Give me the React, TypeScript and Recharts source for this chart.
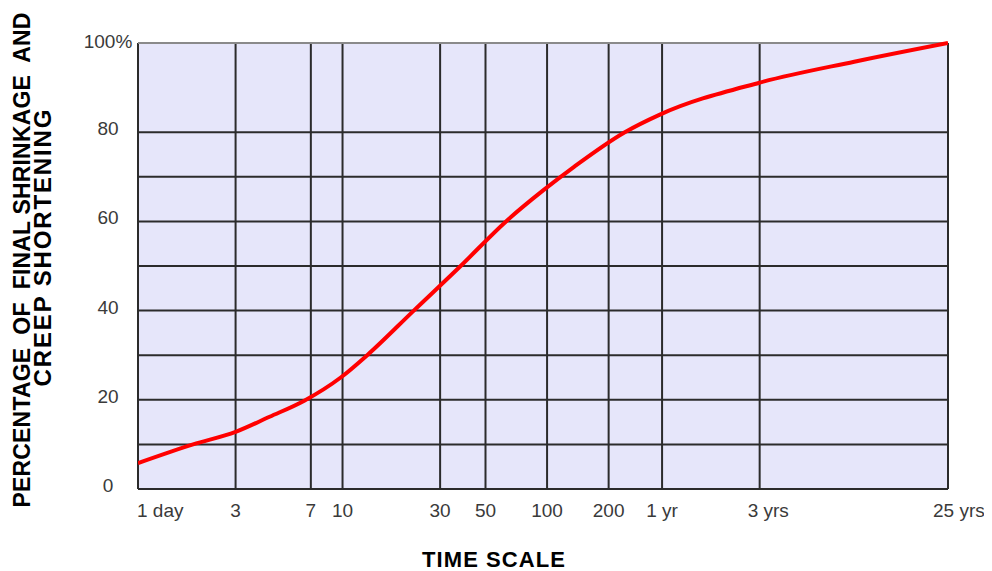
import React from 'react';
import { LineChart, Line, XAxis, YAxis, CartesianGrid, ReferenceLine } from 'recharts';

// Time in days (log scale), percentage of final shrinkage / creep
const days = [1, 1.86, 3, 4.4, 6.5, 9.8, 13.2, 22.3, 37.8, 63, 96, 136, 240, 354, 1092, 3176, 9125];
const pct = [5.8, 10, 12.8, 16.2, 19.8, 25, 30, 40, 50, 60, 67, 72.3, 80, 83.9, 91.1, 95.8, 100];

const xTickValues = [1, 3, 7, 10, 30, 50, 100, 200, 365, 1095, 9125];
const xTickLabels = ['1 day', '3', '7', '10', '30', '50', '100', '200', '1 yr', '3 yrs', '25 yrs'];

const yGridValues = [0, 10, 20, 30, 40, 50, 60, 70, 80];
const yLabelValues = [0, 20, 40, 60, 80, 100];

const yTitle1 = 'PERCENTAGE  OF  FINAL SHRINKAGE  AND';
const yTitle2 = 'CREEP SHORTENING';
const xTitle = 'TIME SCALE';

const data = days.map((d, i) => ({ day: d, pct: pct[i] }));

const LABEL_COLOR = '#3a3a3a';
const FONT = 'Liberation Sans, Arial, sans-serif';

const XTick = (props: any) => {
  const { x, y, payload } = props;
  const i = xTickValues.indexOf(payload.value);
  const label = i >= 0 ? xTickLabels[i] : '';
  let anchor: 'start' | 'middle' = 'middle';
  let dx = 0;
  if (i === 0) {
    anchor = 'start';
    dx = -1;
  } else if (label.endsWith('yrs')) {
    anchor = 'start';
    dx = i === xTickValues.length - 1 ? -15 : -12;
  }
  return (
    <text
      x={x + dx}
      y={y + 28}
      textAnchor={anchor}
      fontFamily={FONT}
      fontSize={19}
      fill={LABEL_COLOR}
      style={{ whiteSpace: 'pre' }}
    >
      {label}
    </text>
  );
};

const YTick = (props: any) => {
  const { x, y, payload } = props;
  const v = payload.value;
  if (!yLabelValues.includes(v)) return null;
  const label = v === 100 ? '100%' : String(v);
  return (
    <text
      x={x - 30}
      y={y + (v === 100 ? 5 : 3)}
      textAnchor="middle"
      fontFamily={FONT}
      fontSize={19}
      fill={LABEL_COLOR}
    >
      {label}
    </text>
  );
};

export default function App() {
  return (
    <LineChart
      width={976}
      height={563}
      data={data}
      margin={{ top: 35, right: 36, left: 70, bottom: 42 }}
    >
      <CartesianGrid
        fill="#e6e6fa"
        stroke="#2b2b2b"
        strokeWidth={2}
        strokeDasharray=""
      />
      <XAxis
        dataKey="day"
        type="number"
        scale="log"
        domain={[1, 9125]}
        ticks={xTickValues}
        allowDataOverflow
        interval={0}
        axisLine={false}
        tickLine={false}
        tickSize={0}
        tickMargin={0}
        height={40}
        tick={<XTick />}
      />
      <YAxis
        type="number"
        domain={[0, 100]}
        ticks={[...yGridValues, 100]}
        interval={0}
        axisLine={false}
        tickLine={false}
        tickSize={0}
        tickMargin={0}
        width={60}
        tick={<YTick />}
      />
      <ReferenceLine y={100} stroke="#8a8a8a" strokeWidth={2} />
      <Line
        type="monotone"
        dataKey="pct"
        stroke="#ff0000"
        strokeWidth={4}
        dot={false}
        activeDot={false}
        isAnimationActive={false}
      />
      <text
        x={22}
        y={252}
        transform="rotate(-90 22 252)"
        textAnchor="middle"
        fontFamily={FONT}
        fontWeight="bold"
        fontSize={23}
        fill="#000"
        textLength={495}
        lengthAdjust="spacing"
        style={{ whiteSpace: 'pre' }}
      >
        {yTitle1}
      </text>
      <text
        x={43}
        y={240}
        transform="rotate(-90 43 240)"
        textAnchor="middle"
        fontFamily={FONT}
        fontWeight="bold"
        fontSize={24}
        fill="#000"
        textLength={277}
        lengthAdjust="spacing"
      >
        {yTitle2}
      </text>
      <text
        x={414}
        y={559}
        textAnchor="start"
        fontFamily={FONT}
        fontWeight="bold"
        fontSize={22}
        fill="#000"
        textLength={143}
        lengthAdjust="spacing"
      >
        {xTitle}
      </text>
    </LineChart>
  );
}
